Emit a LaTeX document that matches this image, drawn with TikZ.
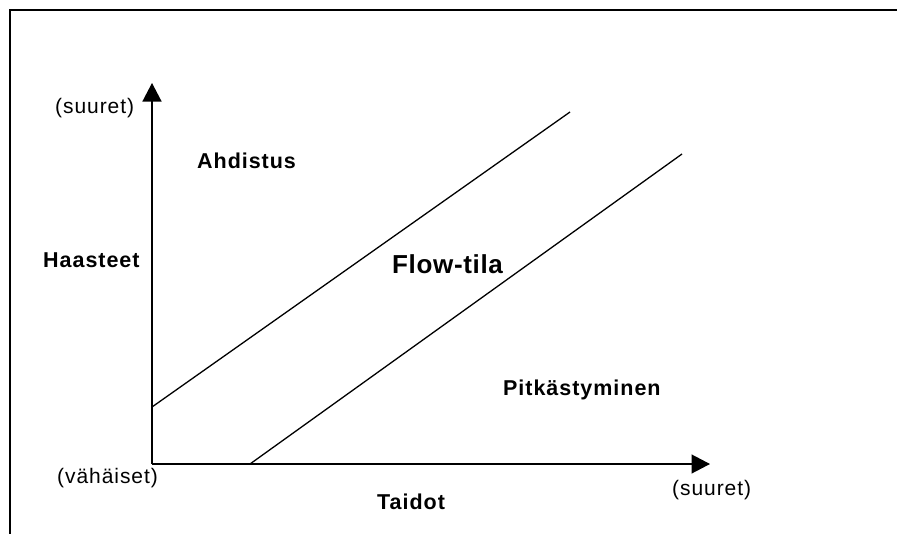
\documentclass[tikz,border=0pt]{standalone}
\usepackage{fontspec}
\setmainfont{Liberation Sans}
\newfontfamily\spaced[LetterSpace=4.5]{Liberation Sans}
\newfontfamily\spacedb[LetterSpace=2.5]{Liberation Sans}
\usetikzlibrary{arrows.meta}
\tikzset{
  frame/.style={line width=2pt},
  axis/.style={line width=1.3pt,-{Triangle[length=18.5pt,width=19pt]}},
  zone/.style={line width=1.3pt},
  lbl/.style={anchor=base west,inner sep=0pt,font=\spaced\fontsize{21}{25}\selectfont},
  blbl/.style={anchor=base west,inner sep=0pt,font=\spaced\fontsize{21.5}{26}\selectfont\bfseries},
  biglbl/.style={anchor=base west,inner sep=0pt,font=\spacedb\fontsize{26}{31}\selectfont\bfseries}
}
\begin{document}
\begin{tikzpicture}[x=1pt,y=-1pt]
\useasboundingbox (0,0) rectangle (897,533);
% frame
\coordinate (fbl) at (10,540);
\coordinate (ftl) at (10,10);
\coordinate (ftr) at (905,10);
\draw[frame] (fbl) -- (ftl) -- (ftr);
% axes
\coordinate (O) at (152,464);
\coordinate (ytop) at (152,83);
\coordinate (xend) at (710,464);
\draw[axis] (O) -- (ytop);
\draw[axis] (O) -- (xend);
% zone lines
\coordinate (l1a) at (152,407);
\coordinate (l1b) at (570,112);
\coordinate (l2a) at (250,464);
\coordinate (l2b) at (682,154);
\draw[zone] (l1a) -- (l1b);
\draw[zone] (l2a) -- (l2b);
% labels
\node[lbl] (ysuuret) at (55,113) {(suuret)};
\node[blbl] (ahd) at (197,168) {Ahdistus};
\node[blbl] (haa) at (43,267) {Haasteet};
\node[biglbl] (flow) at (392,273) {Flow-tila};
\node[blbl] (pit) at (503,395) {Pitkästyminen};
\node[lbl] (vah) at (57,483) {(vähäiset)};
\node[blbl] (tai) at (377,509) {Taidot};
\node[lbl] (xsuuret) at (672,495) {(suuret)};
\end{tikzpicture}
\end{document}
